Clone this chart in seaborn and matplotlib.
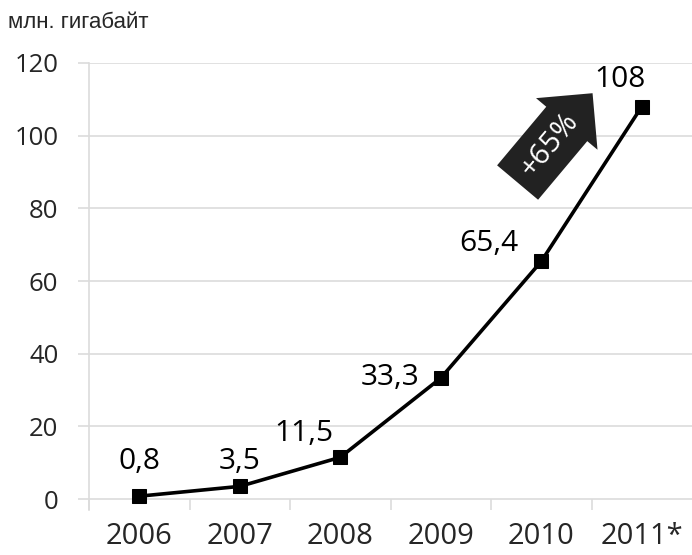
import pandas as pd
import seaborn as sns
import matplotlib.pyplot as plt
import numpy as np

# data
years = ["2006", "2007", "2008", "2009", "2010", "2011*"]
values = [0.8, 3.5, 11.5, 33.3, 65.4, 108]
value_labels = ["0,8", "3,5", "11,5", "33,3", "65,4", "108"]
y_ticks = [0, 20, 40, 60, 80, 100, 120]
unit_label = "млн. гигабайт"
growth_label = "+65%"

sns.set_style("white")
plt.rcParams['font.family'] = ['Open Sans', 'DejaVu Sans']

df = pd.DataFrame({"x": np.arange(len(years)), "value": values})

fig = plt.figure(figsize=(6.92, 5.55), dpi=100)
ax = fig.add_axes([89 / 692, 45 / 555, 1 - 89 / 692, (510 - 63) / 555])

grid_col = "#dcdcdc"

sns.lineplot(data=df, x="x", y="value", ax=ax, color="black", linewidth=2.6,
             marker="s", markersize=9.5, markeredgecolor="black", zorder=5)

ax.set_xlim(-0.5, len(years) - 0.5)
ax.set_ylim(-3, 120)

# y axis: light grid + ticks sticking out left
ax.set_yticks(y_ticks)
ax.set_yticklabels([str(v) for v in y_ticks], fontsize=18.5)
ax.yaxis.grid(True, color=grid_col, linewidth=1.2)
ax.tick_params(axis="y", length=8, width=1.2, color=grid_col, pad=14, direction="out", left=True)

# x axis: category labels and separator ticks
ax.set_xticks(np.arange(len(years)))
ax.set_xticklabels(years, fontsize=21)
ax.set_xticks(np.arange(len(years)) - 0.5, minor=True)
ax.tick_params(axis="x", which="major", length=0, pad=9)
ax.tick_params(axis="x", which="minor", length=8, width=1.2, color=grid_col, direction="in", bottom=True)

for s in ["top", "right", "bottom"]:
    ax.spines[s].set_visible(False)
ax.spines["left"].set_color(grid_col)
ax.spines["left"].set_linewidth(1.2)

ax.set_xlabel("")
ax.set_ylabel("")

# value labels
offsets = [(0, 35), (0, 25), (-36, 24), (-51, 1), (-52, 18), (-22, 27)]
for i, (v, lab) in enumerate(zip(values, value_labels)):
    ax.annotate(lab, (i, v), xytext=offsets[i], textcoords="offset pixels",
                ha="center", va="center", fontsize=21.5, color="black")

# growth arrow
ax.text(4.08, 97.5, growth_label, rotation=50, ha="center", va="center",
        fontsize=21, color="white",
        bbox=dict(boxstyle="rarrow,pad=0.42", facecolor="#222222", edgecolor="none"),
        zorder=6)

fig.text(8 / 692, 1 - 22 / 555, unit_label, fontsize=16, va="center", ha="left",
         family=['Liberation Sans', 'DejaVu Sans'])

plt.savefig("out.png", dpi=100)
